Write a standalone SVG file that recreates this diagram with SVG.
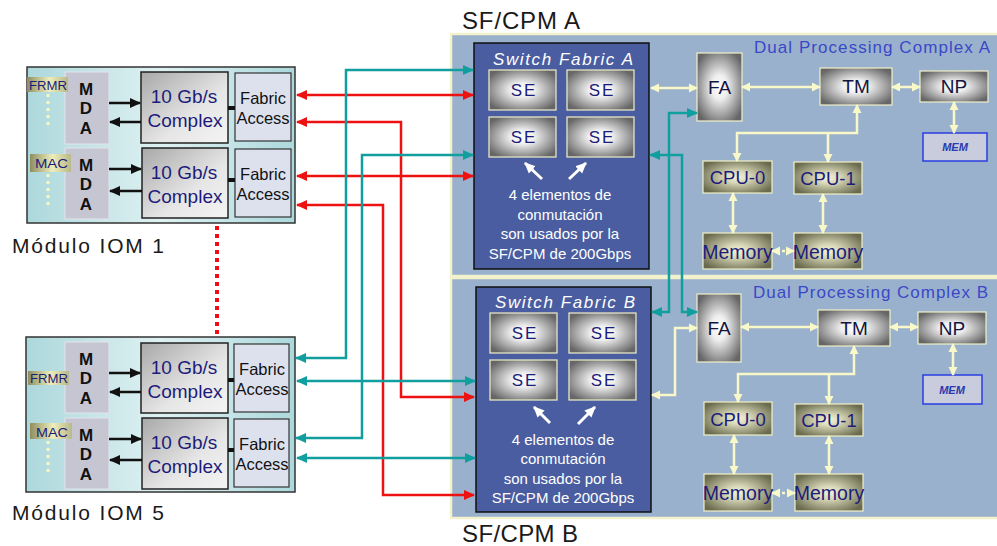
<svg xmlns="http://www.w3.org/2000/svg" width="997" height="546" viewBox="0 0 997 546">
<defs>
<style>
text{font-family:"Liberation Sans",Arial,sans-serif}
.iom{stroke:#333;stroke-width:1.5;fill:url(#gIom)}
.mda{fill:#c6c6d2;stroke:#e4e4ec;stroke-width:1}
.mdat{font-size:17px;font-weight:bold;fill:#111;text-anchor:middle}
.cx{fill:url(#gCx);stroke:#222;stroke-width:1.5}
.cxt{font-size:19px;fill:#1c1c7a;text-anchor:middle}
.fa{fill:#dde1ee;stroke:#333;stroke-width:1.2}
.fat{font-size:16.5px;fill:#111;text-anchor:middle}
.lbl{fill:url(#gLbl)}
.lblt{font-size:13px;fill:#1c1c7a}
.dots{stroke:#f8f8c0;stroke-width:3;stroke-dasharray:3 4;fill:none}
.panel{fill:#9ab1cd;stroke:#f2f2cc;stroke-width:2.5}
.sf{fill:#4a5da0;stroke:#111;stroke-width:1.5}
.se{fill:url(#gGray);stroke:#f0f0c8;stroke-width:1.2}
.set{font-size:17px;fill:#1c1c7a;text-anchor:middle;letter-spacing:2px}
.wt{font-size:15px;fill:#fff;text-anchor:middle}
.sft{font-size:17px;fill:#fff;font-style:italic;text-anchor:middle}
.gb{fill:url(#gGray);stroke:#f0f0c8;stroke-width:1.2}
.ob{fill:url(#gOlive);stroke:#f0f0c8;stroke-width:1.2}
.bt{font-size:19px;fill:#141440;text-anchor:middle}
.ot{font-size:18.5px;fill:#1c1c7a;text-anchor:middle}
.om{font-size:19.5px;fill:#1c1c7a;text-anchor:middle}
.mem{fill:#c8ccdc;stroke:#2a3ee0;stroke-width:1.5}
.memt{font-size:11px;font-weight:bold;font-style:italic;fill:#2a3ab0;text-anchor:middle}
.title{font-size:24px;fill:#1a1a1a}
.dpc{font-size:17px;fill:#3a48c8;text-anchor:end}
.red{stroke:#ee1111;stroke-width:2.5;fill:none;marker-start:url(#mRed);marker-end:url(#mRed)}
.teal{stroke:#119e9e;stroke-width:2.5;fill:none;marker-start:url(#mTeal);marker-end:url(#mTeal)}
.yel{stroke:#f8f8c8;stroke-width:2.5;fill:none}
.ys{marker-start:url(#mYel)}
.ye{marker-end:url(#mYel)}
.blk{stroke:#111;stroke-width:2.5;fill:none;marker-end:url(#mBlk)}
.wh{stroke:#fff;stroke-width:3;fill:none;marker-end:url(#mWh)}
</style>
<linearGradient id="gIom" x1="0" y1="0" x2="1" y2="0">
<stop offset="0" stop-color="#acd8dc"/><stop offset="0.5" stop-color="#dff1f2"/><stop offset="1" stop-color="#acd8dc"/>
</linearGradient>
<linearGradient id="gCx" x1="0" y1="0" x2="1" y2="1">
<stop offset="0" stop-color="#a8a8a8"/><stop offset="0.6" stop-color="#e6e6e6"/><stop offset="1" stop-color="#f4f4f4"/>
</linearGradient>
<linearGradient id="gLbl" x1="0" y1="0" x2="1" y2="0">
<stop offset="0" stop-color="#8e8e60"/><stop offset="0.55" stop-color="#eeeebc"/><stop offset="1" stop-color="#b8b888"/>
</linearGradient>
<radialGradient id="gGray" cx="0.5" cy="0.5" r="0.6">
<stop offset="0" stop-color="#ffffff"/><stop offset="0.3" stop-color="#eeeeee"/><stop offset="1" stop-color="#666666"/>
</radialGradient>
<radialGradient id="gOlive" cx="0.5" cy="0.5" r="0.6">
<stop offset="0" stop-color="#f2f2d8"/><stop offset="0.3" stop-color="#d8d8b8"/><stop offset="1" stop-color="#6a6a4e"/>
</radialGradient>
<marker id="mRed" markerUnits="userSpaceOnUse" markerWidth="12" markerHeight="12" refX="10" refY="5" orient="auto-start-reverse" viewBox="0 0 12 10"><path d="M0,0 L11,5 L0,10 z" fill="#ee1111"/></marker>
<marker id="mTeal" markerUnits="userSpaceOnUse" markerWidth="12" markerHeight="12" refX="10" refY="5" orient="auto-start-reverse" viewBox="0 0 12 10"><path d="M0,0 L11,5 L0,10 z" fill="#119e9e"/></marker>
<marker id="mYel" markerUnits="userSpaceOnUse" markerWidth="10" markerHeight="10" refX="8" refY="4.5" orient="auto-start-reverse" viewBox="0 0 10 9"><path d="M0,0 L9,4.5 L0,9 z" fill="#f8f8c8"/></marker>
<marker id="mBlk" markerUnits="userSpaceOnUse" markerWidth="12" markerHeight="12" refX="10" refY="5" orient="auto" viewBox="0 0 12 10"><path d="M0,0 L11,5 L0,10 z" fill="#111"/></marker>
<marker id="mWh" markerUnits="userSpaceOnUse" markerWidth="12" markerHeight="12" refX="10" refY="5" orient="auto" viewBox="0 0 12 10"><path d="M0,0 L11,5 L0,10 z" fill="#fff"/></marker>
</defs>
<rect width="997" height="546" fill="#fff"/>

<!-- Panels -->
<g id="sfcpmA">
<rect class="panel" x="451" y="34" width="548" height="242"/>
<text class="title" x="462" y="29" textLength="118" lengthAdjust="spacing">SF/CPM A</text>
<text class="dpc" x="990" y="53" textLength="236" lengthAdjust="spacing">Dual Processing Complex A</text>
</g>
<g id="sfcpmB">
<rect class="panel" x="451" y="278" width="548" height="240"/>
<text class="title" x="462" y="542" textLength="116" lengthAdjust="spacing">SF/CPM B</text>
<text class="dpc" x="988" y="298" textLength="235" lengthAdjust="spacing">Dual Processing Complex B</text>
</g>

<!-- IOM 1 -->
<g id="iom1">
<rect class="iom" x="27" y="67" width="268" height="156"/>
<rect class="mda" x="65" y="72" width="44" height="72"/>
<text class="mdat" x="86" y="95">M</text><text class="mdat" x="86" y="114">D</text><text class="mdat" x="86" y="134">A</text>
<rect class="mda" x="65" y="148" width="44" height="71"/>
<text class="mdat" x="86" y="171">M</text><text class="mdat" x="86" y="190">D</text><text class="mdat" x="86" y="210">A</text>
<rect class="lbl" x="27" y="77" width="41" height="15"/>
<text class="lblt" x="29" y="89.5" textLength="38" lengthAdjust="spacingAndGlyphs">FRMR</text>
<line class="dots" x1="48" y1="94" x2="48" y2="127"/>
<rect class="lbl" x="30" y="154" width="41" height="18"/>
<text class="lblt" x="35" y="168" textLength="33" lengthAdjust="spacingAndGlyphs">MAC</text>
<line class="dots" x1="48" y1="174" x2="48" y2="206"/>
<rect class="cx" x="141" y="72" width="87" height="71"/>
<text class="cxt" x="184" y="103">10 Gb/s</text><text class="cxt" x="185" y="127">Complex</text>
<rect class="cx" x="142" y="148" width="86" height="70"/>
<text class="cxt" x="184" y="179">10 Gb/s</text><text class="cxt" x="185" y="203">Complex</text>
<rect class="fa" x="235" y="73" width="56" height="68"/>
<text class="fat" x="263" y="104">Fabric</text><text class="fat" x="263" y="124">Access</text>
<rect class="fa" x="235" y="149" width="56" height="68"/>
<text class="fat" x="263" y="180">Fabric</text><text class="fat" x="263" y="200">Access</text>
<line x1="228" y1="108" x2="235" y2="108" stroke="#111" stroke-width="4"/>
<line x1="228" y1="180" x2="235" y2="180" stroke="#111" stroke-width="4"/>
<line class="blk" x1="109" y1="103" x2="140" y2="103"/>
<line class="blk" x1="141" y1="122" x2="110" y2="122"/>
<line class="blk" x1="109" y1="169" x2="141" y2="169"/>
<line class="blk" x1="142" y1="191" x2="110" y2="191"/>
<text x="12" y="253" font-size="21" fill="#1a1a1a" textLength="152" lengthAdjust="spacing">Módulo IOM 1</text>
</g>

<line x1="217" y1="226" x2="217" y2="336" stroke="#ee1111" stroke-width="4" stroke-dasharray="4 4"/>

<!-- IOM 5 -->
<g id="iom5">
<rect class="iom" x="26" y="337" width="269" height="155"/>
<rect class="mda" x="65" y="342" width="44" height="71"/>
<text class="mdat" x="86" y="365">M</text><text class="mdat" x="86" y="384">D</text><text class="mdat" x="86" y="404">A</text>
<rect class="mda" x="65" y="418" width="44" height="71"/>
<text class="mdat" x="86" y="441">M</text><text class="mdat" x="86" y="460">D</text><text class="mdat" x="86" y="480">A</text>
<rect class="lbl" x="28" y="371" width="41" height="14"/>
<text class="lblt" x="30" y="383" textLength="38" lengthAdjust="spacingAndGlyphs">FRMR</text>
<rect class="lbl" x="30" y="423" width="42" height="16"/>
<text class="lblt" x="36" y="436.5" textLength="32" lengthAdjust="spacingAndGlyphs">MAC</text>
<line class="dots" x1="48" y1="441" x2="48" y2="473"/>
<rect class="cx" x="141" y="343" width="87" height="70"/>
<text class="cxt" x="184" y="374">10 Gb/s</text><text class="cxt" x="185" y="398">Complex</text>
<rect class="cx" x="142" y="418" width="86" height="71"/>
<text class="cxt" x="184" y="449">10 Gb/s</text><text class="cxt" x="185" y="473">Complex</text>
<rect class="fa" x="234" y="344" width="55" height="68"/>
<text class="fat" x="262" y="375">Fabric</text><text class="fat" x="262" y="395">Access</text>
<rect class="fa" x="234" y="419" width="55" height="68"/>
<text class="fat" x="262" y="450">Fabric</text><text class="fat" x="262" y="470">Access</text>
<line x1="228" y1="380" x2="234" y2="380" stroke="#111" stroke-width="4"/>
<line x1="228" y1="450" x2="234" y2="450" stroke="#111" stroke-width="4"/>
<line class="blk" x1="109" y1="373" x2="140" y2="373"/>
<line class="blk" x1="141" y1="392" x2="110" y2="392"/>
<line class="blk" x1="109" y1="439" x2="141" y2="439"/>
<line class="blk" x1="142" y1="460" x2="110" y2="460"/>
<text x="12" y="520" font-size="21" fill="#1a1a1a" textLength="152" lengthAdjust="spacing">Módulo IOM 5</text>
</g>

<!-- Switch Fabric A -->
<g id="switchFabricA">
<rect class="sf" x="474" y="43" width="175" height="226"/>
<text class="sft" x="563" y="65" textLength="140" lengthAdjust="spacing">Switch Fabric A</text>
<rect class="se" x="489" y="70" width="67" height="40"/><text class="set" x="524" y="96">SE</text>
<rect class="se" x="567" y="70" width="67" height="40"/><text class="set" x="602" y="96">SE</text>
<rect class="se" x="489" y="117" width="67" height="40"/><text class="set" x="524" y="143">SE</text>
<rect class="se" x="567" y="117" width="67" height="40"/><text class="set" x="602" y="143">SE</text>
<line class="wh" x1="542" y1="179" x2="525" y2="163"/>
<line class="wh" x1="569" y1="179" x2="586" y2="163"/>
<text class="wt" x="560" y="200">4 elementos de</text>
<text class="wt" x="560" y="219.5">conmutación</text>
<text class="wt" x="560" y="239">son usados por la</text>
<text class="wt" x="560" y="258.5">SF/CPM de 200Gbps</text>
</g>

<!-- Switch Fabric B -->
<g id="switchFabricB">
<rect class="sf" x="476" y="287" width="175" height="225"/>
<text class="sft" x="565" y="308" textLength="140" lengthAdjust="spacing">Switch Fabric B</text>
<rect class="se" x="490" y="313" width="67" height="40"/><text class="set" x="525" y="339">SE</text>
<rect class="se" x="569" y="313" width="67" height="40"/><text class="set" x="604" y="339">SE</text>
<rect class="se" x="490" y="360" width="67" height="40"/><text class="set" x="525" y="386">SE</text>
<rect class="se" x="569" y="360" width="67" height="40"/><text class="set" x="604" y="386">SE</text>
<line class="wh" x1="550" y1="423" x2="534" y2="407"/>
<line class="wh" x1="578" y1="424" x2="595" y2="407"/>
<text class="wt" x="563" y="445">4 elementos de</text>
<text class="wt" x="563" y="464">conmutación</text>
<text class="wt" x="563" y="483.5">son usados por la</text>
<text class="wt" x="563" y="502.5">SF/CPM de 200Gbps</text>
</g>

<!-- DPC A nodes -->
<g id="faA"><rect class="gb" x="697" y="53" width="45" height="68"/><text class="bt" x="719.5" y="94">FA</text></g>
<g id="tmA"><rect class="gb" x="820" y="68" width="72" height="37"/><text class="bt" x="856" y="93">TM</text></g>
<g id="npA"><rect class="gb" x="920" y="71" width="68" height="31"/><text class="bt" x="954" y="93">NP</text></g>
<g id="memA"><rect class="mem" x="923" y="133" width="64" height="28"/><text class="memt" x="955" y="151">MEM</text></g>
<g id="cpu0A"><rect class="ob" x="703" y="161" width="69" height="32"/><text class="ot" x="737.5" y="184">CPU-0</text></g>
<g id="cpu1A"><rect class="ob" x="794" y="162" width="68" height="32"/><text class="ot" x="828" y="185">CPU-1</text></g>
<g id="memory0A"><rect class="ob" x="703" y="233" width="69" height="36"/><text class="om" x="737.5" y="258.5">Memory</text></g>
<g id="memory1A"><rect class="ob" x="794" y="233" width="68" height="36"/><text class="om" x="828" y="258.5">Memory</text></g>

<!-- DPC B nodes -->
<g id="faB"><rect class="gb" x="697" y="294" width="44" height="68"/><text class="bt" x="719" y="335">FA</text></g>
<g id="tmB"><rect class="gb" x="818" y="310" width="72" height="36"/><text class="bt" x="854" y="335">TM</text></g>
<g id="npB"><rect class="gb" x="918" y="312" width="68" height="32"/><text class="bt" x="952" y="335">NP</text></g>
<g id="memB"><rect class="mem" x="923" y="375" width="59" height="29"/><text class="memt" x="952" y="393.5">MEM</text></g>
<g id="cpu0B"><rect class="ob" x="704" y="402" width="68" height="33"/><text class="ot" x="738" y="425.5">CPU-0</text></g>
<g id="cpu1B"><rect class="ob" x="795" y="404" width="68" height="32"/><text class="ot" x="829" y="427">CPU-1</text></g>
<g id="memory0B"><rect class="ob" x="704" y="474" width="68" height="37"/><text class="om" x="738" y="500">Memory</text></g>
<g id="memory1B"><rect class="ob" x="795" y="474" width="68" height="37"/><text class="om" x="829" y="500">Memory</text></g>

<!-- Connectors -->
<g id="connectors">
<path class="red" d="M297,95 H473"/>
<path class="red" d="M297,122 H401 V397 H474"/>
<path class="red" d="M297,176 H473"/>
<path class="red" d="M297,205 H383 V495 H474"/>
<path class="teal" d="M473,70 H346 V358 H296"/>
<path class="teal" d="M473,155 H362 V438 H296"/>
<path class="teal" d="M297,381 H475"/>
<path class="teal" d="M297,458 H475"/>
<path class="teal" d="M697,113 H669 V312 H652"/>
<path class="teal" d="M650,155 H682 V312 H697"/>
<path class="yel ys ye" d="M651,88 H697"/>
<path class="yel ys ye" d="M652,395 H675 V328 H697"/>
<path class="yel ys ye" d="M742,87 H820"/>
<path class="yel ys ye" d="M892,87 H920"/>
<path class="yel ys ye" d="M954,102 V133"/>
<path class="yel ys ye" d="M857,105 V133 H737 V161"/>
<path class="yel ye" d="M828,133 V162"/>
<path class="yel ys ye" d="M733,193 V233"/>
<path class="yel ys ye" d="M823,194 V233"/>
<path class="yel ys ye" d="M772,251 H794" stroke-dasharray="3 2"/>
<path class="yel ys ye" d="M741,327 H818"/>
<path class="yel ys ye" d="M890,327 H918"/>
<path class="yel ys ye" d="M953,344 V375"/>
<path class="yel ys ye" d="M854,346 V374 H738 V402"/>
<path class="yel ye" d="M829,374 V404"/>
<path class="yel ys ye" d="M734,435 V474"/>
<path class="yel ys ye" d="M829,436 V474"/>
<path class="yel ys ye" d="M772,493 H795" stroke-dasharray="3 2"/>
</g>
</svg>
